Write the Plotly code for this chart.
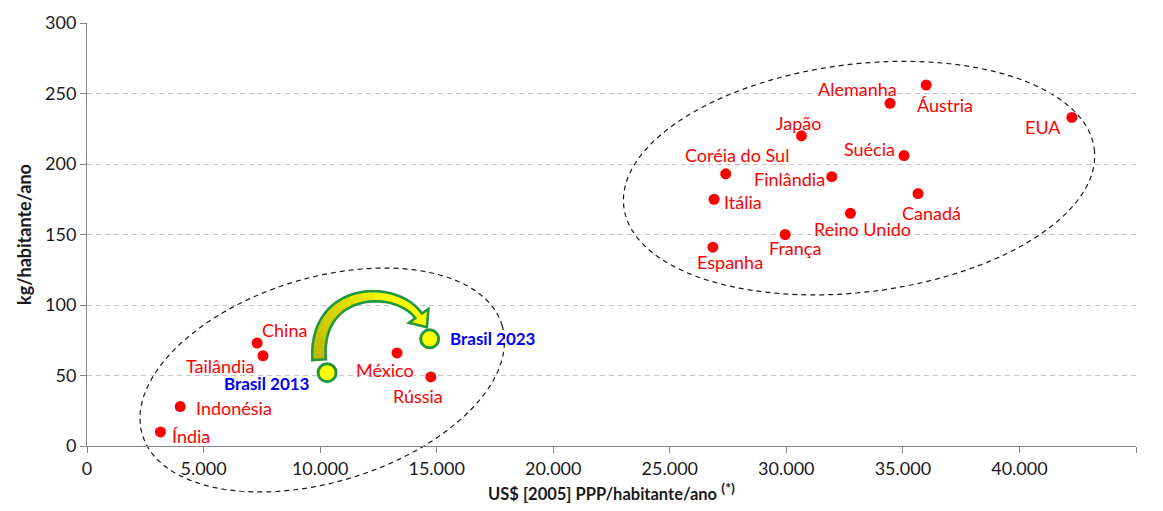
import numpy as np
import plotly.graph_objects as go

# --- data -------------------------------------------------------------
paises = ["Índia", "Indonésia", "China", "Tailândia", "México", "Rússia",
          "Alemanha", "Áustria", "EUA", "Japão", "Suécia", "Coréia do Sul",
          "Finlândia", "Itália", "Canadá", "Reino Unido", "França", "Espanha"]
renda = [3150, 4000, 7300, 7550, 13300, 14750,
         34450, 36000, 42250, 30650, 35050, 27400,
         31950, 26900, 35650, 32750, 29950, 26850]
consumo = [10, 28, 73, 64, 66, 49,
           243, 256, 233, 220, 206, 193,
           191, 175, 179, 165, 150, 141]

brasil_rotulos = ["Brasil 2013", "Brasil 2023"]
brasil_renda = [10300, 14700]
brasil_consumo = [52, 76]

x_ticks = [0, 5000, 10000, 15000, 20000, 25000, 30000, 35000, 40000, 45000]
y_ticks = [0, 50, 100, 150, 200, 250, 300]

# --- label placement (anchor, dx px, dy px; dy positive = down) -------
rotulo_pos = {
    "Índia": ("left", 10, 4), "Indonésia": ("left", 14, 1),
    "China": ("center", 27, -13), "Tailândia": ("right", -7, 10),
    "México": ("center", -12, 17), "Rússia": ("center", -13, 19),
    "Alemanha": ("center", -33, -14), "Áustria": ("center", 19, 20),
    "EUA": ("center", -29, 10), "Japão": ("center", -3, -13),
    "Suécia": ("right", -7, -7), "Coréia do Sul": ("center", 11, -19),
    "Finlândia": ("right", -5, 2), "Itália": ("left", 8, 3),
    "Canadá": ("center", 13, 19), "Reino Unido": ("center", 12, 16),
    "França": ("center", 10, 13), "Espanha": ("center", 17, 15),
    "Brasil 2013": ("right", -15, 11), "Brasil 2023": ("left", 18, 0),
}

# --- geometry ---------------------------------------------------------
W, H = 1163, 511
ML, MR, MT, MB = 87, 27, 23, 65
PW, PH = W - ML - MR, H - MT - MB
XMAX, YMAX = x_ticks[-1], y_ticks[-1]


def to_px(x, y):
    return ML + x / XMAX * PW, MT + (1 - y / YMAX) * PH


def to_data(px, py):
    return (px - ML) / PW * XMAX, (1 - (py - MT) / PH) * YMAX


def to_paper(px, py):
    return (px - ML) / PW, 1 - (py - MT) / PH


def path_from_px(pts, conv=to_data, close=True):
    parts = []
    for i, (px, py) in enumerate(pts):
        x, y = conv(px, py)
        parts.append(("M" if i == 0 else "L") + f"{x:.5f},{y:.5f}")
    return " ".join(parts) + (" Z" if close else "")


def ellipse_path(cx, cy, a, b, ang_deg, n=180):
    cpx, cpy = to_px(cx, cy)
    th = np.radians(ang_deg)
    t = np.linspace(0, 2 * np.pi, n, endpoint=False)
    px = cpx + a * np.cos(t) * np.cos(th) + b * np.sin(t) * np.sin(th)
    py = cpy - a * np.cos(t) * np.sin(th) + b * np.sin(t) * np.cos(th)
    return path_from_px(list(zip(px, py)), conv=to_paper)


shapes = []
# dashed groupings (centre in data units, semi-axes in px, tilt in degrees);
# drawn in paper space so they may run past the axes
for cx, cy, a, b, ang in [(10090, 46.8, 188, 102, 17), (33120, 190, 237, 114, 7)]:
    shapes.append(dict(type="path", path=ellipse_path(cx, cy, a, b, ang),
                       xref="paper", yref="paper", layer="between",
                       line=dict(color="#1a1a1a", width=1.2, dash="5px,4px")))

# curved arrow from Brasil 2013 to Brasil 2023
p0 = np.array(to_px(brasil_renda[0], brasil_consumo[0]))
p1 = np.array(to_px(brasil_renda[1], brasil_consumo[1]))
S = p0 + np.array([-8, -13])
E = p1 + np.array([-11, -23])
d_end = np.array([0.58, 0.81])
C1 = S + np.array([-5, -73])
C2 = E - 40 * d_end

ts = np.linspace(0, 1, 41)


def bez(t):
    return ((1 - t) ** 3) * S + 3 * ((1 - t) ** 2) * t * C1 + 3 * (1 - t) * t ** 2 * C2 + t ** 3 * E


def bez_d(t):
    return 3 * ((1 - t) ** 2) * (C1 - S) + 6 * (1 - t) * t * (C2 - C1) + 3 * t ** 2 * (E - C2)


centre = np.array([bez(t) for t in ts])
tang = np.array([bez_d(t) for t in ts])
tang = tang / np.linalg.norm(tang, axis=1)[:, None]
norm = np.stack([-tang[:, 1], tang[:, 0]], axis=1)
half = 6.8 - 2.8 * ts
left = centre + norm * half[:, None]
right = centre - norm * half[:, None]

# gradient fill along the shaft
c_a = np.array([190, 185, 0])
c_b = np.array([255, 255, 0])
for i in range(len(ts) - 1):
    f = min(1.0, ts[i] / 0.75)
    col = (c_a + (c_b - c_a) * f).astype(int)
    colstr = f"rgb({col[0]},{col[1]},{col[2]})"
    poly = [left[i], left[i + 1], right[i + 1], right[i]]
    shapes.append(dict(type="path", path=path_from_px(poly), xref="x", yref="y",
                       layer="between", fillcolor=colstr,
                       line=dict(color=colstr, width=0.6)))

tip_dir = tang[-1]
tip_norm = norm[-1]
wing_l = E + tip_norm * 12
wing_r = E - tip_norm * 12
tip = E + tip_dir * 14
shapes.append(dict(type="path", path=path_from_px([wing_l, tip, wing_r]),
                   xref="x", yref="y", layer="between", fillcolor="#ffff00",
                   line=dict(color="#ffff00", width=0.5)))
outline = list(left) + [wing_l, tip, wing_r] + list(right[::-1])
shapes.append(dict(type="path", path=path_from_px(outline), xref="x", yref="y",
                   layer="between", line=dict(color="#22983e", width=2.6)))

# --- figure -----------------------------------------------------------
fig = go.Figure()
fig.add_trace(go.Scatter(x=renda, y=consumo, mode="markers",
                         marker=dict(color="#ff0000", size=11, line=dict(width=0)),
                         hoverinfo="skip", showlegend=False))
fig.add_trace(go.Scatter(x=brasil_renda, y=brasil_consumo, mode="markers",
                         marker=dict(color="#ffff00", size=18,
                                     line=dict(color="#22983e", width=3)),
                         hoverinfo="skip", showlegend=False))

annotations = []
for nome, xv, yv in zip(paises + brasil_rotulos, renda + brasil_renda,
                        consumo + brasil_consumo):
    anc, dx, dy = rotulo_pos[nome]
    is_br = nome.startswith("Brasil")
    annotations.append(dict(
        x=xv, y=yv, xref="x", yref="y", text=f"<b>{nome}</b>" if is_br else nome,
        showarrow=False, xanchor=anc, yanchor="middle", xshift=dx, yshift=-dy,
        font=dict(family="Lato", size=17 if is_br else 18,
                  color="#0000ff" if is_br else "#ff0000")))

fig.update_layout(
    width=W, height=H,
    margin=dict(l=ML, r=MR, t=MT, b=MB),
    paper_bgcolor="white", plot_bgcolor="white",
    separators=",.",
    font=dict(family="Lato", size=18, color="#1a1a1a"),
    shapes=shapes, annotations=annotations,
    xaxis=dict(range=[0, XMAX], tickvals=x_ticks, tickformat=",.0f",
               showgrid=False, zeroline=False, showline=True,
               linecolor="#868686", linewidth=1, ticks="outside",
               ticklen=6, tickcolor="#868686",
               tickfont=dict(family="Lato", size=18, color="#1a1a1a"),
               title=dict(text="<b>US$ [2005] PPP/habitante/ano</b> "
                               "<sup><span style='font-size:14px'><b>(*)</b></span></sup>",
                          font=dict(family="Lato", size=16.5, color="#1a1a1a"),
                          standoff=6)),
    yaxis=dict(range=[0, YMAX], tickvals=y_ticks,
               showgrid=True, gridcolor="#c4c4c4", gridwidth=1, griddash="5px,4px",
               zeroline=False, showline=True, linecolor="#868686", linewidth=1,
               ticks="outside", ticklen=6, tickcolor="#868686",
               tickfont=dict(family="Lato", size=18, color="#1a1a1a"),
               title=dict(text="<b>kg/habitante/ano</b>",
                          font=dict(family="Lato", size=18, color="#1a1a1a"),
                          standoff=8)),
)

fig.write_html("out.html")
